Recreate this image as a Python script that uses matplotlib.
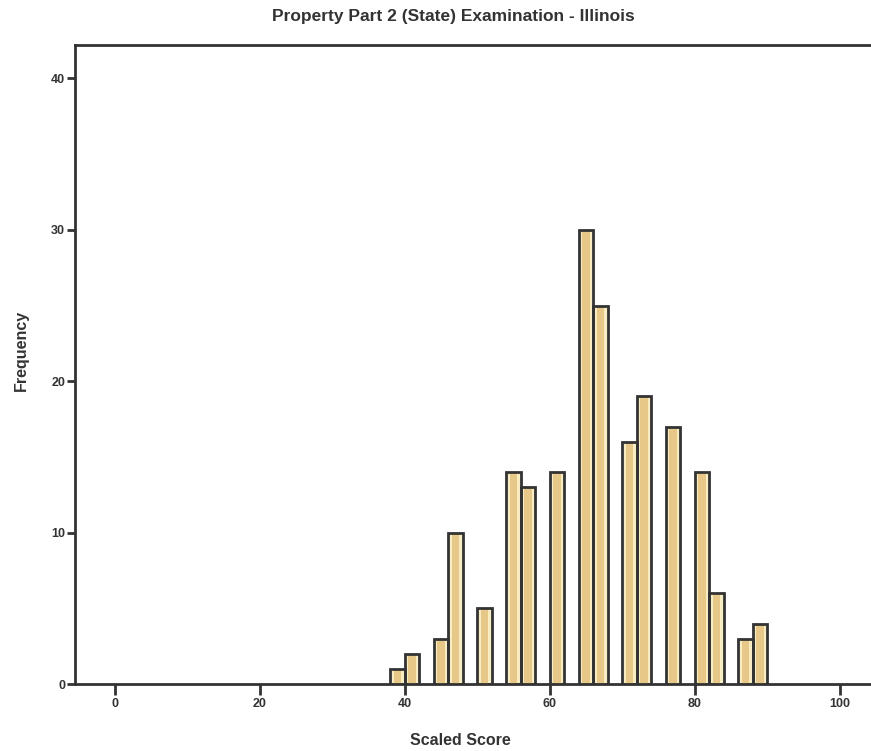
import numpy as np
import matplotlib.pyplot as plt

plt.rcParams['font.family'] = ['Liberation Sans', 'DejaVu Sans']

# bins of scaled score (left edge) and counts
bin_left = [38, 40, 44, 46, 50, 54, 56, 60, 64, 66, 70, 72, 76, 80, 82, 86, 88]
counts = [1, 2, 3, 10, 5, 14, 13, 14, 30, 25, 16, 19, 17, 14, 6, 3, 4]
bin_width = 2

xticks = [0, 20, 40, 60, 80, 100]
yticks = [0, 10, 20, 30, 40]

ink = '#333333'

fig = plt.figure(figsize=(8.71, 7.51), dpi=100)
ax = fig.add_axes([0.086, 0.089, 0.914, 0.851])

x = np.array(bin_left) + bin_width / 2
ax.bar(x, counts, width=bin_width, color='#f8edc2', linewidth=0, zorder=2)
ax.bar(x, counts, width=bin_width * 0.5, color='#e7c889', linewidth=0, zorder=3)
ax.bar(x, counts, width=bin_width, fill=False, edgecolor=ink, linewidth=2.0, zorder=4)

ax.set_xlim(-5.5, 104.3)
ax.set_ylim(0, 42.2)
ax.set_xticks(xticks)
ax.set_yticks(yticks)
ax.tick_params(axis='x', direction='out', length=8, width=2, color=ink, labelsize=9, labelcolor=ink, pad=2)
ax.tick_params(axis='y', direction='out', length=6, width=2, color=ink, labelsize=9, labelcolor=ink, pad=1)
for lab in ax.get_xticklabels() + ax.get_yticklabels():
    lab.set_fontweight('bold')

for side in ['left', 'top', 'bottom']:
    ax.spines[side].set_linewidth(2.0)
    ax.spines[side].set_color(ink)
ax.spines['right'].set_visible(False)

fig.text(0.52, 0.978, 'Property Part 2 (State) Examination - Illinois', ha='center', va='center',
         fontsize=12.5, fontweight='bold', color=ink)
fig.text(0.528, 0.014, 'Scaled Score', ha='center', va='center', fontsize=11.5, fontweight='bold', color=ink)
fig.text(0.024, 0.533, 'Frequency', ha='center', va='center', rotation=90, fontsize=11.5,
         fontweight='bold', color=ink)

fig.savefig('out.png', dpi=100)
